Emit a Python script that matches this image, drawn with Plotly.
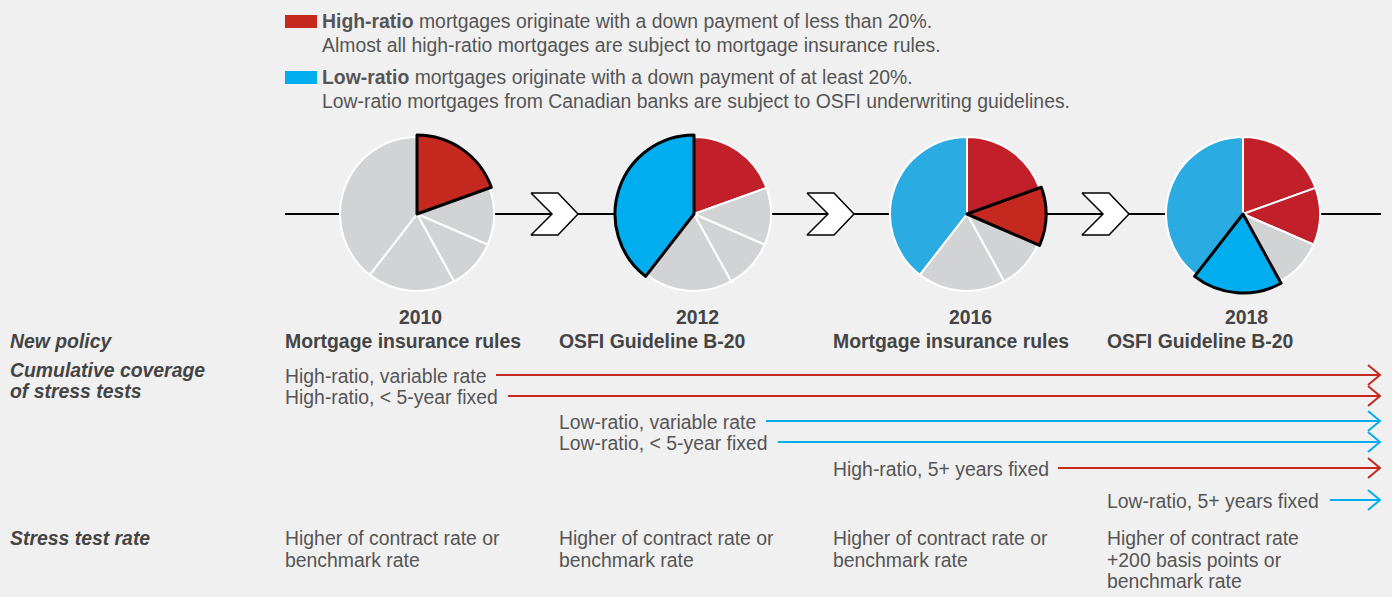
import plotly.graph_objects as go

# ---------------- data ----------------
years = ["2010", "2012", "2016", "2018"]
policies = ["Mortgage insurance rules", "OSFI Guideline B-20",
            "Mortgage insurance rules", "OSFI Guideline B-20"]
segments = ["High-ratio, variable / < 5-year fixed", "High-ratio, 5+ years fixed",
            "Other", "Low-ratio, 5+ years fixed", "Low-ratio, variable / < 5-year fixed"]
segment_share = [19.5, 12.0, 10.5, 18.5, 39.5]
segment_type = ["high", "high", "other", "low", "low"]
segment_intro = ["2010", "2016", None, "2018", "2012"]

coverage_labels = ["High-ratio, variable rate", "High-ratio, < 5-year fixed",
                   "Low-ratio, variable rate", "Low-ratio, < 5-year fixed",
                   "High-ratio, 5+ years fixed", "Low-ratio, 5+ years fixed"]
coverage_type = ["high", "high", "low", "low", "high", "low"]
coverage_year = ["2010", "2010", "2012", "2012", "2016", "2018"]

stress_rate = [["Higher of contract rate or", "benchmark rate"],
               ["Higher of contract rate or", "benchmark rate"],
               ["Higher of contract rate or", "benchmark rate"],
               ["Higher of contract rate", "+200 basis points or", "benchmark rate"]]

legend_lines = [
    ("high", "<b>High-ratio</b> mortgages originate with a down payment of less than 20%.",
     "Almost all high-ratio mortgages are subject to mortgage insurance rules."),
    ("low", "<b>Low-ratio</b> mortgages originate with a down payment of at least 20%.",
     "Low-ratio mortgages from Canadian banks are subject to OSFI underwriting guidelines."),
]

# ---------------- styles / layout ----------------
W, H = 1392, 597
BG = "#f0f0f0"
GREY = "#d2d3d5"
RED = "#c1202a"
RED_NEW = "#c4281f"
BLUE = "#2aabe2"
BLUE_NEW = "#00aeef"
TXT = "#555555"
TXT_B = "#444444"
FONT = "Liberation Sans, Arial, sans-serif"
FS = 19.4

pie_cx = [417, 694, 967, 1243]
pie_cy = 214
pie_r = 77
col_x = [285, 559, 833, 1107]
timeline = (285, 1381)
chevron_x = [531, 807, 1082]
cov_y = [375, 396, 421, 442, 468, 500]
cov_start = [496, 508, 766, 778, 1058, 1330]
arrow_end = 1380

fig = go.Figure()

# timeline line
fig.add_trace(go.Scatter(x=list(timeline), y=[pie_cy, pie_cy], mode="lines",
                         line=dict(color="black", width=2), hoverinfo="skip", showlegend=False))
# chevrons
for cx in chevron_x:
    xs = [cx, cx + 27, cx + 47, cx + 27, cx, cx + 21, cx]
    ys = [pie_cy - 21, pie_cy - 21, pie_cy, pie_cy + 21, pie_cy + 21, pie_cy, pie_cy - 21]
    fig.add_trace(go.Scatter(x=xs, y=ys, mode="lines", fill="toself", fillcolor="white",
                             line=dict(color="black", width=1.5), hoverinfo="skip", showlegend=False))


def px_dom(cx, cy, r):
    return dict(x=[(cx - r) / W, (cx + r) / W], y=[1 - (cy + r) / H, 1 - (cy - r) / H])


for i, yr in enumerate(years):
    colors, hl = [], []
    for s in range(len(segments)):
        intro = segment_intro[s]
        covered = intro is not None and int(intro) <= int(yr)
        new = intro == yr
        if not covered:
            c = GREY
        elif segment_type[s] == "high":
            c = RED_NEW if new else RED
        else:
            c = BLUE_NEW if new else BLUE
        colors.append(c)
        hl.append(new)
    fig.add_trace(go.Pie(values=segment_share, labels=segments, sort=False, direction="clockwise",
                         rotation=0, textinfo="none", hoverinfo="label", showlegend=False,
                         marker=dict(colors=colors, line=dict(color="white", width=2)),
                         domain=px_dom(pie_cx[i], pie_cy, pie_r)))
    # highlight overlay
    fig.add_trace(go.Pie(values=segment_share, labels=segments, sort=False, direction="clockwise",
                         rotation=0, textinfo="none", hoverinfo="skip", showlegend=False,
                         marker=dict(colors=[c if h else "rgba(0,0,0,0)" for c, h in zip(colors, hl)],
                                     line=dict(color=["black" if h else "rgba(0,0,0,0)" for h in hl],
                                               width=[3 if h else 0 for h in hl])),
                         domain=px_dom(pie_cx[i], pie_cy, pie_r + 2)))

# coverage arrows
for k, lab in enumerate(coverage_labels):
    col = RED_NEW if coverage_type[k] == "high" else BLUE_NEW
    y = cov_y[k]
    fig.add_trace(go.Scatter(x=[cov_start[k], arrow_end], y=[y, y], mode="lines",
                             line=dict(color=col, width=2), hoverinfo="skip", showlegend=False))
    fig.add_trace(go.Scatter(x=[arrow_end - 12, arrow_end, arrow_end - 12], y=[y - 10, y, y + 10],
                             mode="lines", line=dict(color=col, width=2), hoverinfo="skip",
                             showlegend=False))

ann = []


def txt(x, y, s, color=TXT, size=FS, xanchor="left"):
    ann.append(dict(x=x, y=y, xref="x", yref="y", text=s, showarrow=False, xanchor=xanchor,
                    yanchor="middle", font=dict(family=FONT, size=size, color=color)))


# legend
shapes = []
for j, (t, l1, l2) in enumerate(legend_lines):
    y0 = 15 + j * 56
    shapes.append(dict(type="rect", xref="x", yref="y", x0=285, x1=317, y0=y0, y1=y0 + 13,
                       fillcolor=RED_NEW if t == "high" else BLUE_NEW, line=dict(width=0)))
    txt(320, 21 + j * 56, l1)
    txt(320, 45 + j * 56, l2)

# left labels
txt(8, 341, "<b><i>New policy</i></b>", TXT_B)
txt(8, 370, "<b><i>Cumulative coverage</i></b>", TXT_B)
txt(8, 391, "<b><i>of stress tests</i></b>", TXT_B)
txt(8, 538, "<b><i>Stress test rate</i></b>", TXT_B)

for i, yr in enumerate(years):
    txt(pie_cx[i] + 3, 317, "<b>%s</b>" % yr, TXT_B, xanchor="center")
    txt(col_x[i] - 2, 341, "<b>%s</b>" % policies[i], TXT_B)
    for m, line in enumerate(stress_rate[i]):
        txt(col_x[i] - 2, 538 + m * 21.5, line)

for k, lab in enumerate(coverage_labels):
    i = years.index(coverage_year[k])
    txt(col_x[i] - 2, cov_y[k] + 1, lab)

fig.update_layout(width=W, height=H, margin=dict(l=0, r=0, t=0, b=0),
                  paper_bgcolor=BG, plot_bgcolor=BG,
                  xaxis=dict(range=[0, W], visible=False, fixedrange=True, domain=[0, 1]),
                  yaxis=dict(range=[H, 0], visible=False, fixedrange=True, domain=[0, 1]),
                  annotations=ann, shapes=shapes, showlegend=False)

fig.write_html("out.html", config={"displayModeBar": False},
               post_script="document.body.style.margin='0';document.body.style.overflow='hidden';")
